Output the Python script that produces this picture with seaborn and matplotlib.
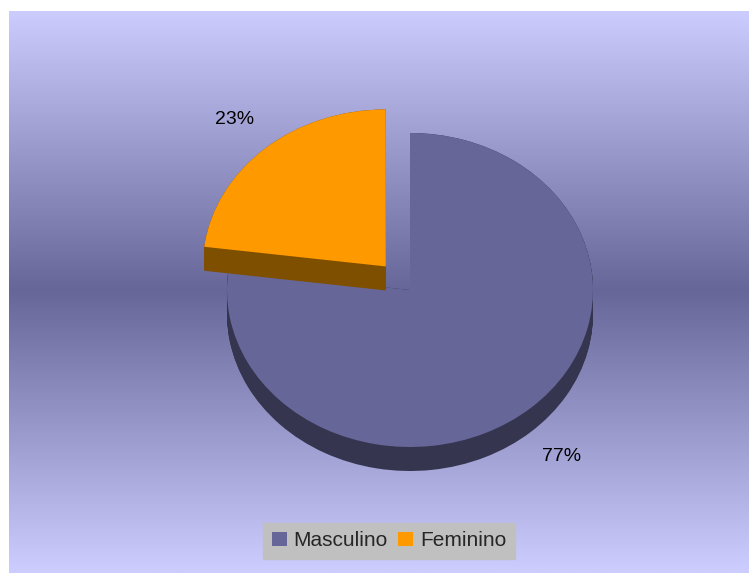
import numpy as np
import matplotlib
matplotlib.use("Agg")
import matplotlib.pyplot as plt
import seaborn as sns
from matplotlib.colors import to_rgb

# Data
categories = ["Masculino", "Feminino"]
shares = [77, 23]

# Styling
top_colors = ["#666699", "#FF9900"]
side_colors = ["#35354F", "#7F4F00"]
explode = [0.0, 0.2]

sns.set_theme(style="white")
plt.rcParams["font.family"] = ["Liberation Sans", "DejaVu Sans"]

W, H = 749, 573
fig = plt.figure(figsize=(W / 100, H / 100), dpi=100)
fig.patch.set_facecolor("white")

# Background panel: vertical gradient, light at top and bottom, dark in the middle
bg = fig.add_axes([9 / W, 0, (W - 9) / W, (H - 11) / H])
bg.set_axis_off()
light = np.array(to_rgb("#CCCCFF"))
dark = np.array(to_rgb("#666699"))
rows = np.linspace(0, 1, 600)
t = np.clip(np.abs(rows - 0.497) / 0.497, 0, 1)
grad = dark + (light - dark) * t[:, None]
bg.imshow(grad[:, None, :], aspect="auto", extent=(0, 1, 0, 1),
          interpolation="bilinear")

# Pie axes (elliptical: different x / y scale gives the tilted look)
ax = fig.add_axes([0, 0, 1, 1])
ax.set_axis_off()
ax.patch.set_alpha(0)

rx, ry = 183.0, 157.0          # pixel radii of the ellipse
cx, cy = 410.0, 573 - 290.0    # pixel centre (from bottom-left)
depth = 24.0 / ry              # extrusion thickness in data units

# Extruded sides: stack of shifted copies, drawn under the top faces
for d in np.linspace(depth, 0.0, 30):
    wedges, _ = ax.pie(shares, colors=side_colors, startangle=90,
                       counterclock=False, explode=explode,
                       center=(0, -d), wedgeprops=dict(linewidth=0))
    for i, w in enumerate(wedges):
        w.set_zorder(1 + 2 * i)

# Top faces
tops, _ = ax.pie(shares, colors=top_colors, startangle=90,
                 counterclock=False, explode=explode,
                 center=(0, 0), wedgeprops=dict(linewidth=0))
for i, w in enumerate(tops):
    w.set_zorder(2 + 2 * i)

# Percentage labels outside each slice; labels below the pie sit under the rim
label_r = 1.25
for w, v, ex in zip(tops, shares, explode):
    mid = np.deg2rad(0.5 * (w.theta1 + w.theta2))
    x = (ex + label_r) * np.cos(mid)
    y = (ex + label_r) * np.sin(mid)
    if np.sin(mid) < 0:
        y -= 0.8 * depth
    ax.text(x, y, f"{v:.0f}%", ha="center", va="center", fontsize=14,
            color="black", zorder=10)

ax.set_aspect("auto")
ax.set_xlim(-cx / rx, (W - cx) / rx)
ax.set_ylim(-cy / ry, (H - cy) / ry)

# Legend
fig.legend(handles=tops, labels=categories, loc="center",
           bbox_to_anchor=(389 / W, 1 - 541 / H), ncol=2, frameon=True,
           facecolor="#C0C0C0", edgecolor="#C0C0C0", fancybox=False,
           framealpha=1, fontsize=15, handlelength=0.72, handleheight=0.63,
           handletextpad=0.33, columnspacing=0.5, borderpad=0.4,
           borderaxespad=0)

fig.savefig("out.png", dpi=100, facecolor="white")
